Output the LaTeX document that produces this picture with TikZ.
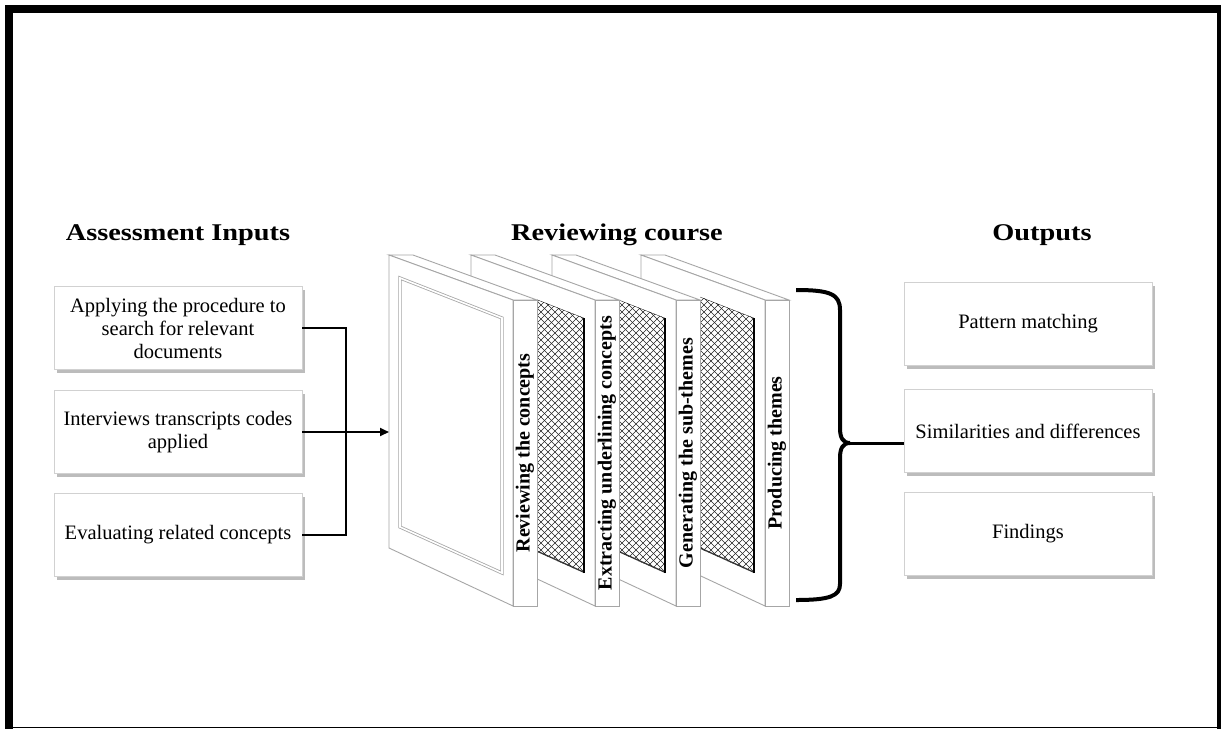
\documentclass[tikz,border=0pt]{standalone}
\usepackage{fontspec}
\setmainfont{Liberation Serif}
\newfontfamily\headfont[FakeStretch=1.18]{Liberation Serif}
\usetikzlibrary{arrows.meta,shadows}
\begin{document}
\begin{tikzpicture}[x=1pt,y=-1pt,
  inbox/.style={draw=black!18, fill=white, minimum width=248pt, minimum height=83pt,
    align=center, inner sep=2pt, font=\fontsize{20.5}{23}\selectfont,
    drop shadow={shadow xshift=3pt, shadow yshift=-3pt, fill=black!40, opacity=0.65}},
  heading/.style={font=\headfont\bfseries\fontsize{24}{28}\selectfont, anchor=base},
  panelline/.style={draw=black!35, line width=0.9pt, fill=white},
  spinetext/.style={rotate=90, font=\bfseries\fontsize{20}{24}\selectfont, inner sep=0pt},
  conn/.style={line width=2pt},
  ]
\useasboundingbox (0,0) rectangle (1221,729);
\fill[white] (0,0) rectangle (1221,729);
% outer frame
\fill[black] (5,5) rectangle (1221,13);
\fill[black] (5,5) rectangle (13,729);
\fill[black] (1217,5) rectangle (1221,729);
\draw[line width=1.2pt] (5,727.5) -- (1221,727.5);

% headings
\node[heading] (h1) at (178,240) {Assessment Inputs};
\node[heading] (h2) at (617,240) {Reviewing course};
\node[heading] (h3) at (1042,240) {Outputs};

% panels, back to front (\c = left limit of the visible hatch)
\foreach \L/\h/\c in {641/1/700,552/1/619,471/1/537,389/0/0}{
  \filldraw[panelline] (\L,255) -- (\L+24,255) -- (\L+148,300) -- (\L+124,300) -- cycle;
  \filldraw[panelline] (\L,255) -- (\L+124,300) -- (\L+124,606) -- (\L,548) -- cycle;
  \filldraw[panelline] (\L+124,300) rectangle (\L+148,606);
  \ifnum\h=1
    \begin{scope}
      \clip (\L+11,278) -- (\L+113,318) -- (\L+113,573) -- (\L+11,527) -- cycle;
      \clip (\c,250) rectangle (\L+120,610);
      \foreach \k in {-47,...,64}{
        \draw[line width=0.45pt, black!85] (\L+\k*7,270) -- ++(330,330);
        \draw[line width=0.45pt, black!85] (\L+\k*7,270) -- ++(-330,330);
      }
      \draw[line width=0.6pt] (\L+11,278) -- (\L+113,318);
      \draw[line width=2.6pt, black!80] (\L+11,527) -- (\L+113,573);
    \end{scope}
    \draw[line width=1.3pt] (\L+113,318) -- (\L+113,573);
  \else
    \draw[draw=black!35, line width=0.8pt, double=white, double distance=1.6pt]
      (\L+11,278) -- (\L+113,318) -- (\L+113,573) -- (\L+11,527) -- cycle;
  \fi
}

% spine labels
\node[spinetext] (s1) at (525,453) {Reviewing the concepts};
\node[spinetext] (s2) at (607,453) {Extracting underlining concepts};
\node[spinetext] (s3) at (688,453) {Generating the sub-themes};
\node[spinetext] (s4) at (777,453) {Producing themes};

% input boxes
\node[inbox] (a1) at (178,328) {Applying the procedure to\\search for relevant\\documents};
\node[inbox] (a2) at (178,432) {Interviews transcripts codes\\applied};
\node[inbox] (a3) at (178,535) {Evaluating related concepts};

% output boxes
\node[inbox] (o1) at (1028,324) {Pattern matching};
\node[inbox] (o2) at (1028,431) {Similarities and differences};
\node[inbox] (o3) at (1028,534) {Findings};

% input connectors
\coordinate (bus) at (346,432);
\coordinate (p1in) at (389,432);
\draw[conn] (a1.east) -| (bus);
\draw[conn] (a3.east) -| (bus);
\draw[conn,-{Triangle[length=9pt,width=8pt]}] (a2.east) -- (p1in);

% brace to outputs
\coordinate (brtip) at (850,443);
\draw[line width=4pt] (796,290) .. controls (830,290) and (840,294) .. (840,310)
  -- (840,428) .. controls (840,438) and (843,443) .. (brtip)
  .. controls (843,443) and (840,448) .. (840,458)
  -- (840,584) .. controls (840,596) and (830,600) .. (796,600);
\draw[line width=3pt] (brtip) -- (brtip -| o2.west);
\end{tikzpicture}
\end{document}
